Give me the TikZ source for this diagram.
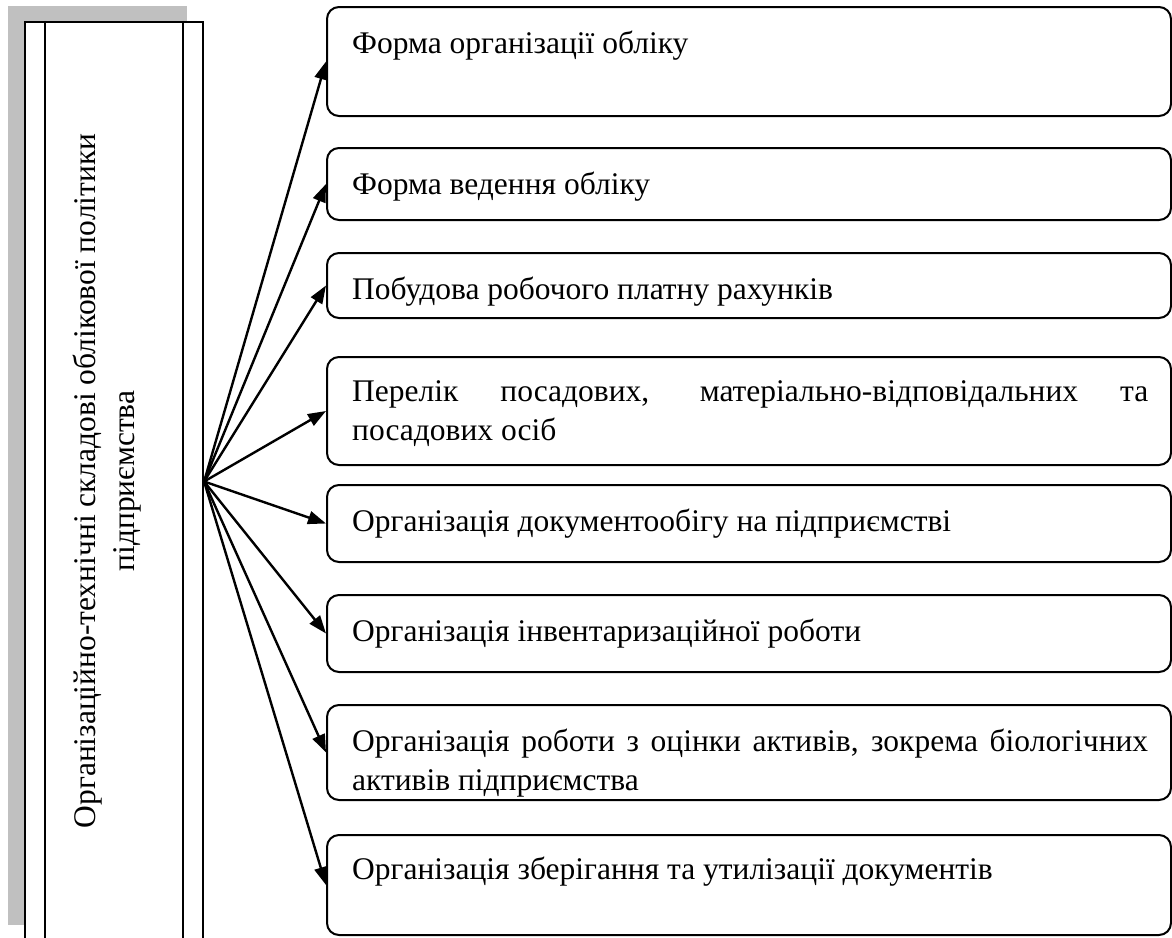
\documentclass[tikz,border=0pt]{standalone}
\usepackage{fontspec}
\setmainfont{Liberation Serif}
\usetikzlibrary{arrows.meta}
\tikzset{
  box/.style={draw=black, line width=2pt, rounded corners=12pt, fill=white, minimum width=844pt, inner sep=0pt},
  lbl/.style={anchor=base west, inner sep=0pt, font=\fontsize{31.5}{39}\selectfont},
  arr/.style={line width=2.4pt, -{Triangle[length=18pt,width=13pt]}},
  lbox/.style={draw=black, line width=2.2pt, fill=white, minimum width=178pt, minimum height=919pt, inner sep=0pt},
}
\begin{document}
\begin{tikzpicture}[x=1pt,y=-1pt]
\useasboundingbox (0,0) rectangle (1172,937);
\clip (0,0) rectangle (1172,937);
% left shadow and box
\fill[fill={rgb,255:red,192;green,192;blue,192}] (8,6) rectangle (187,925);
\node[lbox] (lb) at (114,481.5) {};
\draw[line width=1.6pt] ([xshift=21pt]lb.north west) -- ([xshift=21pt]lb.south west);
\draw[line width=1.6pt] ([xshift=-21pt]lb.north east) -- ([xshift=-21pt]lb.south east);
\node[rotate=90, align=center, inner sep=0pt, font=\fontsize{31.5}{39}\selectfont] (lt) at (107,481)
  {Організаційно-технічні складові облікової політики\\підприємства};
% boxes
\node[box, minimum height=109pt] (b1) at (749,61.5) {};
\node[box, minimum height=72pt]  (b2) at (749,184) {};
\node[box, minimum height=65pt]  (b3) at (749,285.5) {};
\node[box, minimum height=108pt] (b4) at (749,411) {};
\node[box, minimum height=77pt]  (b5) at (749,523.5) {};
\node[box, minimum height=77pt]  (b6) at (749,633.5) {};
\node[box, minimum height=95pt]  (b7) at (749,752.5) {};
\node[box, minimum height=100pt] (b8) at (749,885) {};
% texts
\node[lbl] (t1) at (352,53) {Форма організації обліку};
\node[lbl] (t2) at (352,194) {Форма ведення обліку};
\node[lbl] (t3) at (352,299) {Побудова робочого платну рахунків};
\node[lbl] (t4) at (352,401) {\makebox[796pt][s]{Перелік посадових, матеріально-відповідальних та}};
\node[lbl] (t4b) at (352,440) {посадових осіб};
\node[lbl] (t5) at (352,531) {Організація документообігу на підприємстві};
\node[lbl] (t6) at (352,641) {Організація інвентаризаційної роботи};
\node[lbl] (t7) at (352,751) {\makebox[796pt][s]{Організація роботи з оцінки активів, зокрема біологічних}};
\node[lbl] (t7b) at (352,790) {активів підприємства};
\node[lbl] (t8) at (352,879) {Організація зберігання та утилізації документів};
% arrows
\foreach \i in {1,...,8} {
  \draw[arr] (lb.east) -- (b\i.west);
}
\end{tikzpicture}
\end{document}
